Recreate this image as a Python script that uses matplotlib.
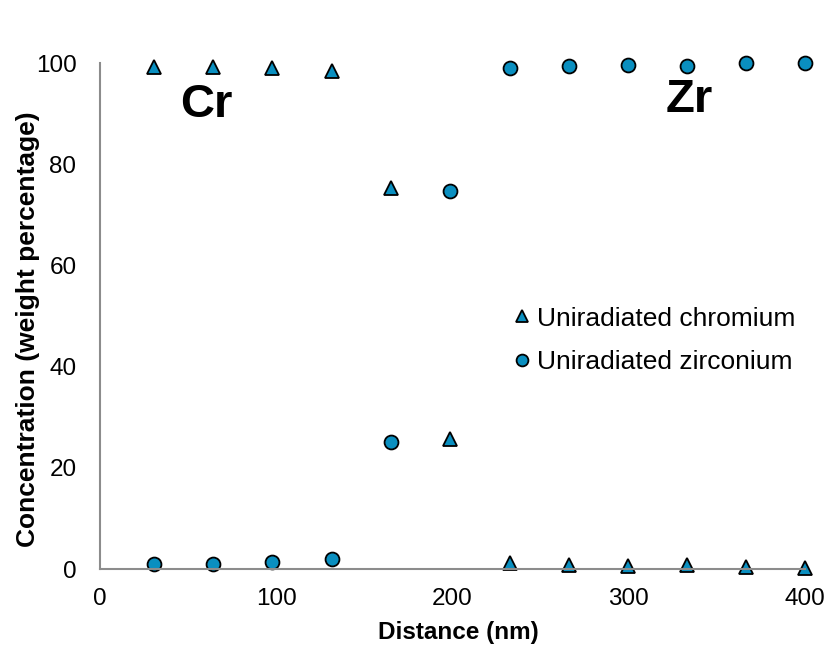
import matplotlib
matplotlib.use("Agg")
import matplotlib.pyplot as plt

plt.rcParams['font.family'] = ['Liberation Sans', 'DejaVu Sans']

distance = [30.6, 64.1, 97.6, 131.6, 165.1, 198.6, 232.6, 266.0, 299.6, 333.0, 366.5, 400.0]
chromium = [99.2, 99.2, 99.0, 98.4, 75.3, 25.7, 1.2, 0.8, 0.6, 0.8, 0.4, 0.2]
zirconium = [1.0, 1.0, 1.4, 2.0, 25.1, 74.7, 99.0, 99.4, 99.6, 99.4, 100.0, 100.0]

color = '#0A8FC0'

fig = plt.figure(figsize=(8.36, 6.53), dpi=100)
ax = fig.add_axes([100/836, 1-569/653, 705/836, 506/653])

ax.plot(distance, chromium, linestyle='none', marker='^', markersize=10,
        markerfacecolor=color, markeredgecolor='black', markeredgewidth=1.3,
        clip_on=False, label='Uniradiated chromium')
ax.plot(distance, zirconium, linestyle='none', marker='o', markersize=10,
        markerfacecolor=color, markeredgecolor='black', markeredgewidth=1.3,
        clip_on=False, label='Uniradiated zirconium')

ax.set_xlim(0, 400)
ax.set_ylim(0, 100)
ax.set_xticks([0, 100, 200, 300, 400])
ax.set_yticks([0, 20, 40, 60, 80, 100])
ax.tick_params(length=0, labelsize=17.5)
ax.tick_params(axis='x', pad=14)
ax.tick_params(axis='y', pad=17)

for s in ['top', 'right']:
    ax.spines[s].set_visible(False)
for s in ['left', 'bottom']:
    ax.spines[s].set_color('#8c8c8c')
    ax.spines[s].set_linewidth(1.5)

ax.set_xlabel('Distance (nm)', fontsize=17.5, fontweight='bold')
ax.set_ylabel('Concentration (weight percentage)', fontsize=19, fontweight='bold')
ax.xaxis.set_label_coords((458.5-100)/705, (569-621)/506)
ax.yaxis.set_label_coords((40-100)/705, (569-329)/506)

ax.text(206/836, 1-105/653, 'Cr', transform=fig.transFigure, fontsize=34,
        fontweight='bold', ha='center', va='center')
ax.text(689/836, 1-100/653, 'Zr', transform=fig.transFigure, fontsize=34,
        fontweight='bold', ha='center', va='center')

leg = ax.legend(loc='center left', bbox_to_anchor=(484/836, 1-340.5/653),
                bbox_transform=fig.transFigure, frameon=False, fontsize=19,
                handletextpad=0.0, handlelength=1.1, labelspacing=0.75,
                borderpad=0.4, markerscale=0.85)

fig.savefig('out.png', dpi=100)
